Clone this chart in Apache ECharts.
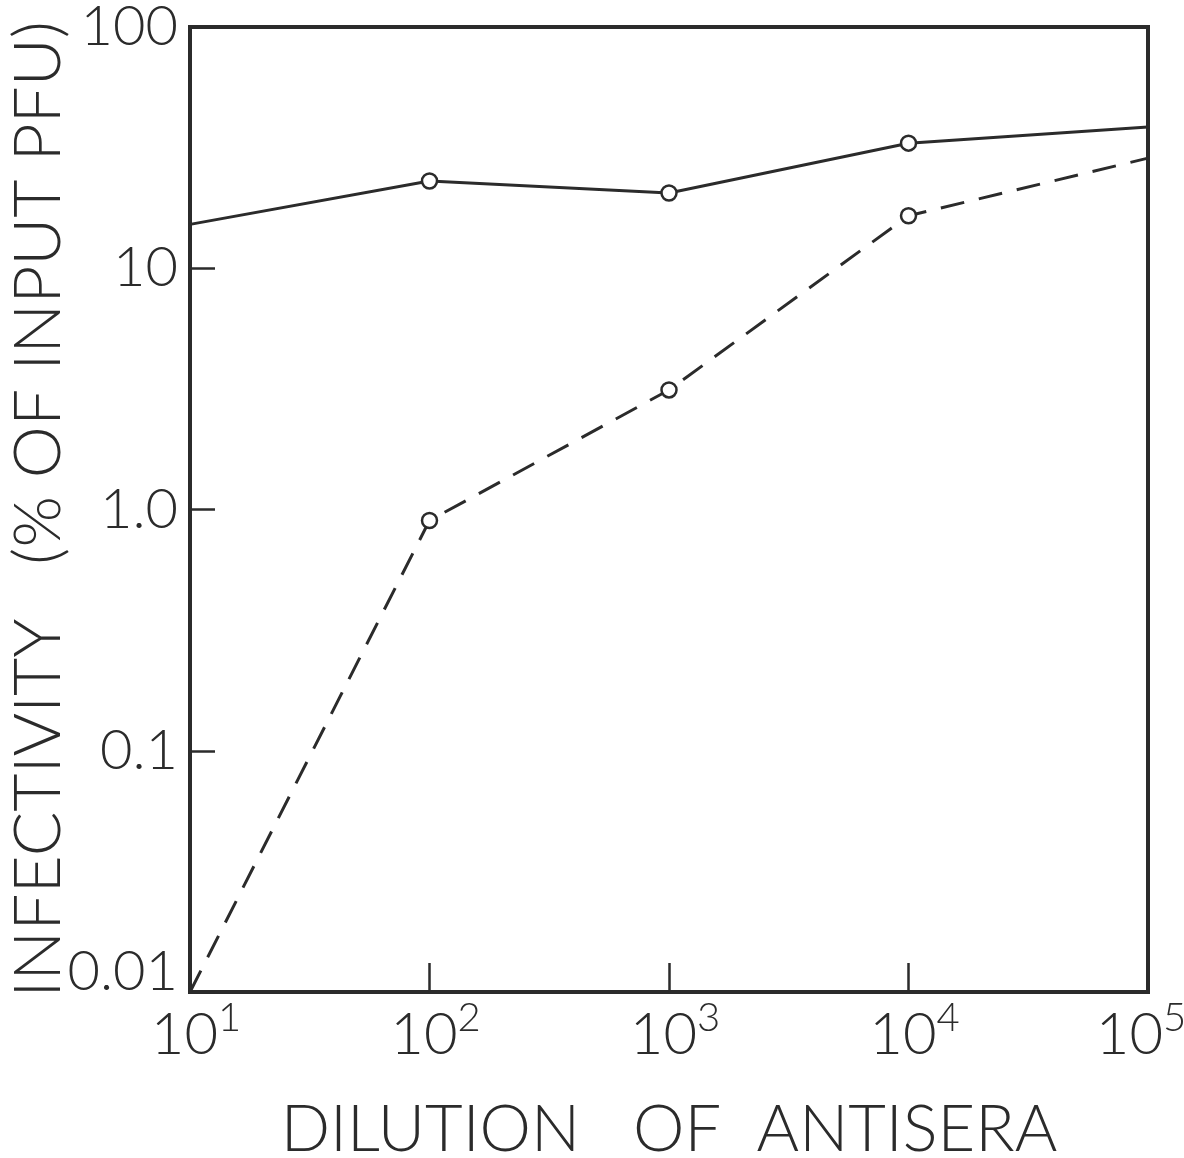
<!DOCTYPE html>
<html>
<head>
<meta charset="utf-8">
<script src="https://cdn.jsdelivr.net/npm/echarts@6/dist/echarts.min.js"></script>
<style>
  html, body { margin: 0; padding: 0; background: #ffffff; }
  #chart { width: 1184px; height: 1158px; }
</style>
</head>
<body>
<div id="chart"></div>
<script>
// Dilution of antisera (x) and infectivity as % of input PFU (y)
const dilutions = [10, 100, 1000, 10000, 100000];
const solidValues = [15.2, 23, 20.5, 33, 38.5];
const dashedValues = [0.01, 0.9, 3.13, 16.5, 28.6];
const yTickLabels = { 0.01: '0.01', 0.1: '0.1', 1: '1.0', 10: '10', 100: '100' };
const xTickExponents = { 10: '1', 100: '2', 1000: '3', 10000: '4', 100000: '5' };

const INK = '#2b2b2b';
const FONT = 'Lato, "DejaVu Sans", sans-serif';
const WEIGHT = 300;

// Open circles only at the measured interior dilutions
function buildData(values) {
  return dilutions.map((d, i) => {
    const item = { value: [d, values[i]] };
    if (i === 0 || i === dilutions.length - 1) item.symbol = 'none';
    return item;
  });
}

const chart = echarts.init(document.getElementById('chart'), null, { renderer: 'canvas' });

const lineBase = {
  type: 'line',
  symbol: 'circle',
  symbolSize: 15,
  showAllSymbol: true,
  silent: true,
  animation: false,
  itemStyle: { color: '#ffffff', borderColor: INK, borderWidth: 2.5 },
  z: 3
};

const baseDigits = { fontFamily: FONT, fontWeight: WEIGHT, fontSize: 58, lineHeight: 66, verticalAlign: 'bottom', color: INK };
const supDigit = { fontFamily: FONT, fontWeight: WEIGHT, fontSize: 40, lineHeight: 40, verticalAlign: 'top', color: INK };

chart.setOption({
  backgroundColor: '#ffffff',
  animation: false,
  grid: {
    left: 190, right: 36, top: 27, bottom: 166,
    outerBoundsMode: 'none',
    containLabel: false,
    show: true, borderColor: INK, borderWidth: 4, backgroundColor: 'transparent'
  },
  xAxis: {
    type: 'log',
    logBase: 10,
    min: 10,
    max: 100000,
    name: 'DILUTION   OF  ANTISERA',
    nameLocation: 'middle',
    nameGap: 106,
    nameTextStyle: { color: INK, fontFamily: FONT, fontWeight: WEIGHT, fontSize: 65 },
    axisLine: { show: true, lineStyle: { color: INK, width: 4 } },
    axisTick: { show: true, inside: true, length: 29, lineStyle: { color: INK, width: 2.5 } },
    splitLine: { show: false },
    minorTick: { show: false },
    axisLabel: {
      margin: 6,
      color: INK,
      // "10" sits near the tick with the exponent hanging to its right;
      // the last label is pulled back inside the frame edge
      formatter: v => {
        const exp = xTickExponents[Math.round(v)] || '';
        return Math.round(v) === 100000 ? '{b|10}{se|' + exp + '}' : '{bp|10}{s|' + exp + '}';
      },
      rich: {
        b: baseDigits,
        bp: Object.assign({}, baseDigits, { padding: [0, 0, 0, 12] }),
        s: Object.assign({}, supDigit),
        se: Object.assign({}, supDigit, { padding: [0, 14, 0, 0] })
      }
    }
  },
  yAxis: {
    type: 'log',
    logBase: 10,
    min: 0.01,
    max: 100,
    name: 'INFECTIVITY   (% OF INPUT PFU)',
    nameLocation: 'middle',
    nameGap: 118,
    nameMoveOverlap: false,
    nameTextStyle: { color: INK, fontFamily: FONT, fontWeight: WEIGHT, fontSize: 66 },
    axisLine: { show: true, lineStyle: { color: INK, width: 4 } },
    axisTick: { show: true, inside: true, length: 25, lineStyle: { color: INK, width: 2.5 } },
    splitLine: { show: false },
    minorTick: { show: false },
    axisLabel: {
      margin: 12,
      color: INK,
      fontFamily: FONT,
      fontWeight: WEIGHT,
      fontSize: 56,
      formatter: v => {
        const key = Object.keys(yTickLabels).find(k => Math.abs(Math.log10(+k) - Math.log10(v)) < 1e-6);
        if (!key) return '';
        // the bottom label sits just above the corner
        return +key === 0.01 ? '{lo|' + yTickLabels[key] + '}' : yTickLabels[key];
      },
      rich: {
        lo: { fontFamily: FONT, fontWeight: WEIGHT, fontSize: 56, color: INK, padding: [0, 0, 40, 0] }
      }
    }
  },
  series: [
    Object.assign({}, lineBase, {
      name: 'solid',
      data: buildData(solidValues),
      lineStyle: { color: INK, width: 3, type: 'solid' }
    }),
    Object.assign({}, lineBase, {
      name: 'dashed',
      data: buildData(dashedValues),
      lineStyle: { color: INK, width: 3, type: [24, 15] }
    })
  ]
});
</script>
</body>
</html>
